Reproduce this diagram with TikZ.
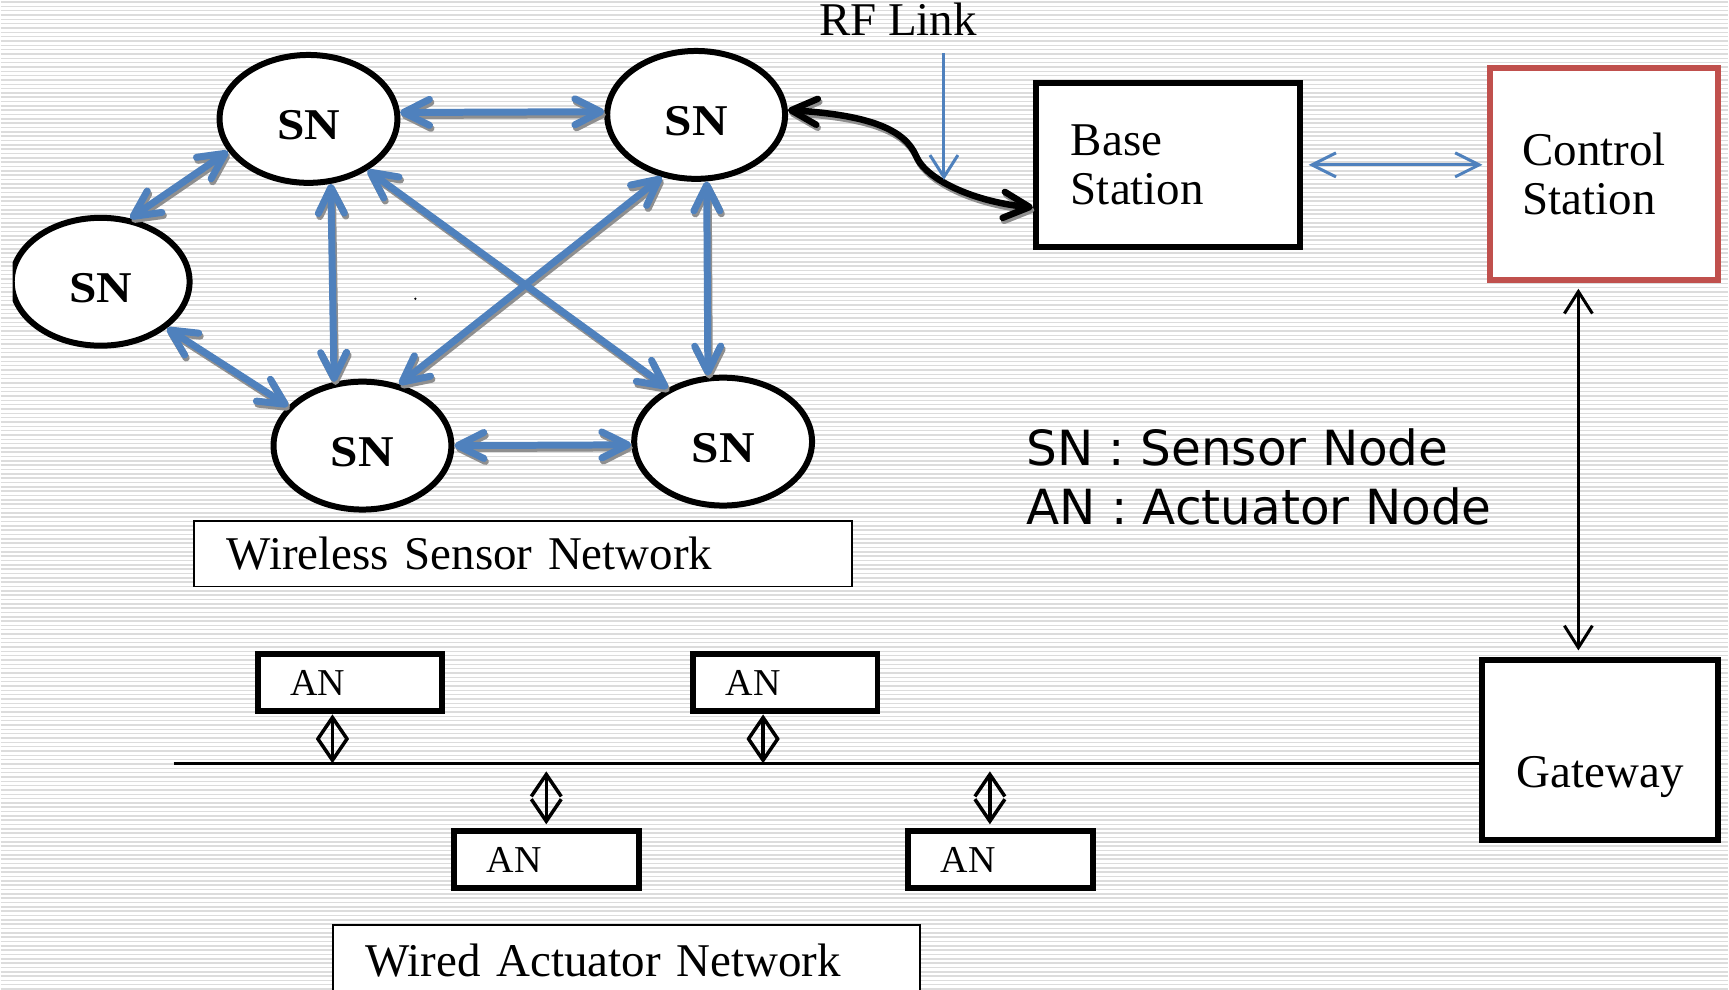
\documentclass[tikz,border=0pt]{standalone}
\usepackage{fontspec}
\setmainfont{Liberation Serif}
\newfontfamily\legendfont{DejaVu Sans}
\newfontfamily\snfont[FakeStretch=1.12]{Liberation Serif}
\usetikzlibrary{arrows.meta,shapes.geometric,calc}
\definecolor{blueA}{HTML}{4F81BD}
\definecolor{redA}{HTML}{C0504D}
\definecolor{stripe}{HTML}{DCDCDC}
\definecolor{shadowc}{HTML}{8F8F8F}
\begin{document}
\begin{tikzpicture}[x=1pt,y=1pt,
  sn/.style={ellipse, draw, fill=white, line width=6pt, minimum width=178pt, minimum height=128pt, inner sep=0pt, text height=42pt, text depth=0pt, font=\snfont\fontsize{44pt}{48pt}\selectfont\bfseries},
  boxA/.style={rectangle, draw, fill=white, line width=6pt, inner sep=0pt, align=left, font=\fontsize{47pt}{49pt}\selectfont},
  anbox/.style={boxA, minimum width=185pt, minimum height=57pt, inner xsep=33pt, text width=119pt, font=\fontsize{38pt}{40pt}\selectfont},
  textbox/.style={rectangle, draw, fill=white, line width=2pt, inner sep=0pt, align=left, font=\fontsize{47pt}{50pt}\selectfont},
  blu/.style={draw=blueA, line width=7pt, line cap=round, line join=round,
     {Straight Barb[length=26pt,width=26pt,round]}-{Straight Barb[length=26pt,width=26pt,round]}},
  bshadow/.style={blu, draw=shadowc},
  blk/.style={draw=black, line width=6.5pt, line cap=round,
     {Straight Barb[length=26pt,width=26pt,round]}-{Straight Barb[length=26pt,width=26pt,round]}},
  thinb/.style={draw=blueA, line width=3pt,
     {Straight Barb[length=24pt,width=24pt]}-{Straight Barb[length=24pt,width=24pt]}},
  think/.style={draw=black, line width=3pt,
     {Straight Barb[length=22pt,width=28pt]}-{Straight Barb[length=22pt,width=28pt]}},
  anarr/.style={draw=black, line width=3.5pt,
     {Straight Barb[length=22pt,width=30pt]}-{Straight Barb[length=22pt,width=30pt]}},
  bus/.style={draw=black, line width=3pt}
]
% background
\fill[white] (0,0) rectangle (1729,-988);
\foreach \i in {0,...,228} \draw[stripe, line width=1.5pt] (0,{-\i*4.333-2}) -- (1729,{-\i*4.333-2});
\useasboundingbox (0,0) rectangle (1729,-988);

% sensor nodes
\node[sn] (tl) at (308,-119) {SN};
\node[sn] (tr) at (696,-115) {SN};
\begin{scope}
  \clip (12,0) rectangle (1729,-988);
  \node[sn] (lf) at (100,-282) {SN};
\end{scope}
\node[sn] (bl) at (362,-446) {SN};
\node[sn] (br) at (723,-442) {SN};
\fill (415,-299) circle (1.3);

% boxes
\node[boxA, minimum width=264pt, minimum height=164pt, inner xsep=35pt, text width=194pt] (bs) at (1168,-165) {Base\\Station};
\node[boxA, draw=redA, minimum width=228pt, minimum height=212pt, inner xsep=32pt, text width=164pt] (cs) at (1605,-174) {Control\\Station};
\node[boxA, minimum width=236pt, minimum height=180pt, align=center] (gw) at (1601,-751) {\raisebox{-37pt}[0pt][0pt]{Gateway}};

\node[anbox] (an1) at (349.5,-683.5) {AN};
\node[anbox] (an2) at (785,-683.5) {AN};
\node[anbox] (an3) at (546,-860.5) {AN};
\node[anbox] (an4) at (1000.5,-860.5) {AN};

\node[textbox, minimum width=659pt, minimum height=66pt, inner xsep=33pt, text width=593pt] (wsn) at (522.5,-554) {Wireless Sensor Network};
\node[textbox, minimum width=587pt, minimum height=70pt, inner xsep=32pt, text width=523pt] (wan) at (626.5,-961) {Wired Actuator Network};

% texts
\node[anchor=base, font=\fontsize{47pt}{50pt}\selectfont] (rf) at (898,-36) {RF Link};
\node[anchor=base west, font=\legendfont\fontsize{48.5pt}{50pt}\selectfont] (lsn) at (1023,-466) {SN : Sensor Node};
\node[anchor=base west, font=\legendfont\fontsize{48.5pt}{50pt}\selectfont] (lan) at (1023,-525) {AN : Actuator Node};

\coordinate (rfk) at (916,-156);
\coordinate (bsin) at ($(bs.south west)!0.25!(bs.north west)$);

% shadows
\begin{scope}[transform canvas={shift={(1.5pt,-3pt)}}]
  \draw[bshadow] (tl.4) -- (tr.178);
  \draw[bshadow] (tl.202) -- (lf.65);
  \draw[bshadow] (tl.289) -- (bl.114);
  \draw[bshadow] (tl.319) -- (br.136);
  \draw[bshadow] (tr.241.5) -- (bl.59.4);
  \draw[bshadow] (tr.279) -- (br.103.6);
  \draw[bshadow] (lf.325) -- (bl.152.5);
  \draw[bshadow] (bl.0.6) -- (br.182);
  \draw[blk, draw=shadowc] (tr.3) .. controls (870,-115) and (905,-130) .. (rfk) .. controls (927,-182) and (980,-203) .. (bsin);
\end{scope}

% blue links
\draw[blu] (tl.4) -- (tr.178);
\draw[blu] (tl.202) -- (lf.65);
\draw[blu] (tl.289) -- (bl.114);
\draw[blu] (tl.319) -- (br.136);
\draw[blu] (tr.241.5) -- (bl.59.4);
\draw[blu] (tr.279) -- (br.103.6);
\draw[blu] (lf.325) -- (bl.152.5);
\draw[blu] (bl.0.6) -- (br.182);

% RF link
\draw[blk] (tr.3) .. controls (870,-115) and (905,-130) .. (rfk) .. controls (927,-182) and (980,-203) .. (bsin);
\coordinate (rfs) at (944,-53);
\coordinate (rfe) at (944,-180);
\draw[draw=blueA, line width=3pt, -{Straight Barb[length=22pt,width=28pt]}] (rfs) -- (rfe);

% station links
\draw[thinb, shorten <=6pt, shorten >=5pt] (bs.east) -- (bs.east -| cs.west);
\coordinate (cg) at ($(cs.south)+(-26,0)$);
\draw[think, shorten <=6pt, shorten >=7pt] (cg) -- (cg |- gw.north);

% bus
\coordinate (busL) at (173,-764);
\draw[bus] (busL) -- (busL -| gw.west);
\coordinate (b1) at (332,-764);
\coordinate (b2) at (763,-764);
\coordinate (b4) at (990,-764);
\draw[anarr] (b1 |- an1.south) -- (b1);
\draw[anarr] (b2 |- an2.south) -- (b2);
\draw[anarr, shorten <=8pt, shorten >=4pt] (an3.north |- busL) -- (an3.north);
\draw[anarr, shorten <=8pt, shorten >=4pt] (b4) -- (b4 |- an4.north);
\end{tikzpicture}
\end{document}
